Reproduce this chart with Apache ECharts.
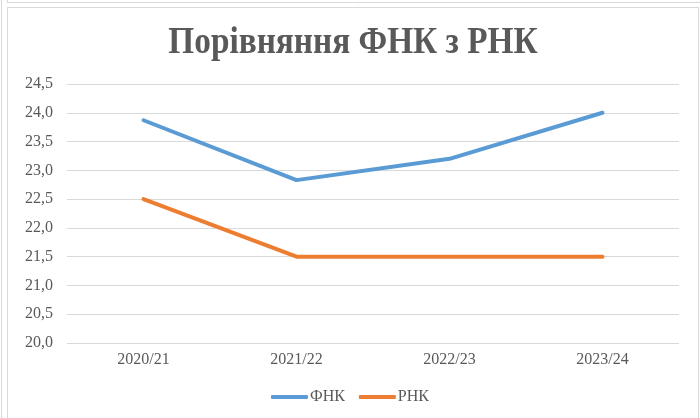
<!DOCTYPE html>
<html>
<head>
<meta charset="utf-8">
<script src="https://cdn.jsdelivr.net/npm/echarts@6/dist/echarts.min.js"></script>
<style>
  html, body { margin: 0; padding: 0; background: #fff; }
  #chart { width: 700px; height: 418px; }
</style>
</head>
<body>
<div id="chart"></div>
<script>
// data
const categories = ['2020/21', '2021/22', '2022/23', '2023/24'];
const fnk = [23.87, 22.83, 23.2, 24.0];
const rnk = [22.5, 21.5, 21.5, 21.5];
const titleText = 'Порівняння ФНК з РНК';

const font = '"Liberation Serif", "Times New Roman", serif';
const textColor = '#595959';
const frame = '#d9d9d9';

const myChart = echarts.init(document.getElementById('chart'));
myChart.setOption({
    animation: false,
    legend: {
        bottom: 8,
        left: 'center',
        itemWidth: 37,
        itemHeight: 4,
        itemGap: 14,
        icon: 'roundRect',
        textStyle: { fontFamily: font, fontSize: 16, color: textColor, padding: [0, 0, 0, -3] },
        data: ['ФНК', 'РНК']
    },
    grid: { left: 67, right: 21, top: 84, bottom: 75 },
    xAxis: {
        type: 'category',
        data: categories,
        boundaryGap: true,
        axisLine: { show: false },
        axisTick: { show: false },
        axisLabel: { fontFamily: font, fontSize: 16, color: textColor, margin: 9 }
    },
    yAxis: {
        type: 'value',
        min: 20,
        max: 24.5,
        interval: 0.5,
        axisLine: { show: false },
        axisTick: { show: false },
        axisLabel: {
            fontFamily: font, fontSize: 16, color: textColor, margin: 14,
            formatter: v => v.toFixed(1).replace('.', ',')
        },
        splitLine: { lineStyle: { color: frame, width: 1 } }
    },
    series: [
        {
            name: 'ФНК', type: 'line', data: fnk,
            symbol: 'none',
            lineStyle: { color: '#5b9bd5', width: 4, cap: 'round' },
            itemStyle: { color: '#5b9bd5' }
        },
        {
            name: 'РНК', type: 'line', data: rnk,
            symbol: 'none',
            lineStyle: { color: '#ed7d31', width: 4, cap: 'round' },
            itemStyle: { color: '#ed7d31' }
        }
    ],
    graphic: [
        {
            type: 'text', x: 353, y: 43, scaleX: 0.9,
            style: {
                text: titleText, fill: textColor,
                font: 'bold 37px ' + font,
                textAlign: 'center', textVerticalAlign: 'middle'
            }
        },
        { type: 'line', shape: { x1: 1.5, y1: 0, x2: 1.5, y2: 418 }, style: { stroke: frame, lineWidth: 1 } },
        { type: 'line', shape: { x1: 7.5, y1: 0, x2: 7.5, y2: 2 }, style: { stroke: frame, lineWidth: 1 } },
        { type: 'line', shape: { x1: 7, y1: 2.5, x2: 700, y2: 2.5 }, style: { stroke: frame, lineWidth: 1 } },
        { type: 'line', shape: { x1: 7, y1: 7.5, x2: 698, y2: 7.5 }, style: { stroke: frame, lineWidth: 1 } },
        { type: 'line', shape: { x1: 7.5, y1: 7, x2: 7.5, y2: 418 }, style: { stroke: frame, lineWidth: 1 } },
        { type: 'line', shape: { x1: 698.5, y1: 7, x2: 698.5, y2: 418 }, style: { stroke: frame, lineWidth: 1 } }
    ]
});
</script>
</body>
</html>
